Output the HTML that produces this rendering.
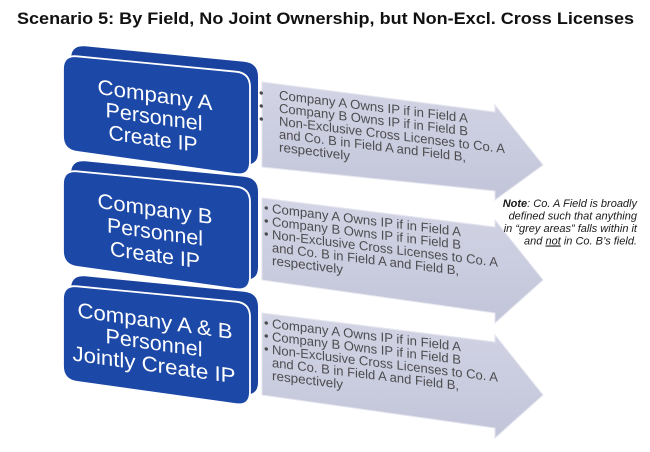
<!DOCTYPE html>
<html>
<head>
<meta charset="utf-8">
<style>
  html, body { margin:0; padding:0; background:#ffffff; }
  body { width:650px; height:452px; overflow:hidden; }
  svg { display:block; }
</style>
</head>
<body>
<svg width="650" height="452" viewBox="0 0 650 452" xmlns="http://www.w3.org/2000/svg">
  <defs>
    <linearGradient id="ag" x1="0" y1="0" x2="0" y2="1">
      <stop offset="0" stop-color="#d3d5e6"/>
      <stop offset="1" stop-color="#c2c4d9"/>
    </linearGradient>
  </defs>

  <!-- Title -->
  <text x="17" y="24" font-family="Liberation Sans, Arial, sans-serif" font-weight="bold" font-size="17" fill="#111" textLength="617" lengthAdjust="spacingAndGlyphs">Scenario 5: By Field, No Joint Ownership, but Non-Excl. Cross Licenses</text>

  <!-- Arrows -->
  <polygon points="262,82 495,112 495,105 543,165 495,200 495,191 262,167" fill="url(#ag)" stroke="#e4e5ee" stroke-width="1"/>
  <polygon points="262,198 495,227 495,220 543,280 495,323 495,313 262,280" fill="url(#ag)" stroke="#e4e5ee" stroke-width="1"/>
  <polygon points="262,313 495,342 495,335 543,395 495,438 495,428 262,395" fill="url(#ag)" stroke="#e4e5ee" stroke-width="1"/>

  <!-- Blue boxes -->
  <g>
    <path transform="translate(8,-10)" d="M63,69 Q63,55 77,56.3 L236,71.7 Q250,73 250,87 L250,162 Q250,176 236,174.1 L77,151.9 Q63,150 63,136 Z" fill="#1a43a0"/>
    <path d="M63,69 Q63,55 77,56.3 L236,71.7 Q250,73 250,87 L250,162 Q250,176 236,174.1 L77,151.9 Q63,150 63,136 Z" fill="#1c48a7" stroke="#ffffff" stroke-width="1.8"/>
  </g>
  <g transform="translate(0,115)">
    <path transform="translate(8,-10)" d="M63,69 Q63,55 77,56.3 L236,71.7 Q250,73 250,87 L250,162 Q250,176 236,174.1 L77,151.9 Q63,150 63,136 Z" fill="#1a43a0"/>
    <path d="M63,69 Q63,55 77,56.3 L236,71.7 Q250,73 250,87 L250,162 Q250,176 236,174.1 L77,151.9 Q63,150 63,136 Z" fill="#1c48a7" stroke="#ffffff" stroke-width="1.8"/>
  </g>
  <g transform="translate(0,230)">
    <path transform="translate(8,-10)" d="M63,69 Q63,55 77,56.3 L236,71.7 Q250,73 250,87 L250,162 Q250,176 236,174.1 L77,151.9 Q63,150 63,136 Z" fill="#1a43a0"/>
    <path d="M63,69 Q63,55 77,56.3 L236,71.7 Q250,73 250,87 L250,162 Q250,176 236,174.1 L77,151.9 Q63,150 63,136 Z" fill="#1c48a7" stroke="#ffffff" stroke-width="1.8"/>
  </g>

  <!-- Box texts -->
  <g font-family="Liberation Sans, Arial, sans-serif" font-size="21" fill="#ffffff" text-anchor="middle">
    <g transform="translate(155,102) skewY(8)">
      <text x="0" y="0" textLength="115" lengthAdjust="spacingAndGlyphs">Company A</text>
      <text x="-1" y="22" textLength="97" lengthAdjust="spacingAndGlyphs">Personnel</text>
      <text x="-2" y="44" textLength="89" lengthAdjust="spacingAndGlyphs">Create IP</text>
    </g>
    <g transform="translate(155,216) skewY(8)">
      <text x="0" y="0" textLength="115" lengthAdjust="spacingAndGlyphs">Company B</text>
      <text x="0" y="23" textLength="96" lengthAdjust="spacingAndGlyphs">Personnel</text>
      <text x="0" y="46" textLength="90" lengthAdjust="spacingAndGlyphs">Create IP</text>
    </g>
    <g transform="translate(155,328) skewY(8)">
      <text x="0" y="0" textLength="155" lengthAdjust="spacingAndGlyphs">Company A &amp; B</text>
      <text x="-1" y="22" textLength="97" lengthAdjust="spacingAndGlyphs">Personnel</text>
      <text x="-1" y="44" textLength="163" lengthAdjust="spacingAndGlyphs">Jointly Create IP</text>
    </g>
  </g>

  <!-- Arrow texts -->
  <g font-family="Liberation Sans, Arial, sans-serif" font-size="13" fill="#4d4d4f">
    <g transform="translate(259,97) skewY(7)">
      <text x="0" y="0">•</text>
      <text x="0" y="13">•</text>
      <text x="0" y="26">•</text>
      <text x="20" y="0" textLength="189" lengthAdjust="spacingAndGlyphs">Company A Owns IP if in Field A</text>
      <text x="20" y="13" textLength="189" lengthAdjust="spacingAndGlyphs">Company B Owns IP if in Field B</text>
      <text x="20" y="26" textLength="226" lengthAdjust="spacingAndGlyphs">Non-Exclusive Cross Licenses to Co. A</text>
      <text x="20" y="39" textLength="187" lengthAdjust="spacingAndGlyphs">and Co. B in Field A and Field B,</text>
      <text x="20" y="52" textLength="71" lengthAdjust="spacingAndGlyphs">respectively</text>
    </g>
    <g transform="translate(264,212) skewY(7)">
      <text x="0" y="0">•</text>
      <text x="0" y="13">•</text>
      <text x="0" y="26">•</text>
      <text x="8" y="0" textLength="189" lengthAdjust="spacingAndGlyphs">Company A Owns IP if in Field A</text>
      <text x="8" y="13" textLength="189" lengthAdjust="spacingAndGlyphs">Company B Owns IP if in Field B</text>
      <text x="8" y="26" textLength="226" lengthAdjust="spacingAndGlyphs">Non-Exclusive Cross Licenses to Co. A</text>
      <text x="8" y="39" textLength="187" lengthAdjust="spacingAndGlyphs">and Co. B in Field A and Field B,</text>
      <text x="8" y="52" textLength="71" lengthAdjust="spacingAndGlyphs">respectively</text>
    </g>
    <g transform="translate(264,327) skewY(7)">
      <text x="0" y="0">•</text>
      <text x="0" y="13">•</text>
      <text x="0" y="26">•</text>
      <text x="8" y="0" textLength="189" lengthAdjust="spacingAndGlyphs">Company A Owns IP if in Field A</text>
      <text x="8" y="13" textLength="189" lengthAdjust="spacingAndGlyphs">Company B Owns IP if in Field B</text>
      <text x="8" y="26" textLength="226" lengthAdjust="spacingAndGlyphs">Non-Exclusive Cross Licenses to Co. A</text>
      <text x="8" y="39" textLength="187" lengthAdjust="spacingAndGlyphs">and Co. B in Field A and Field B,</text>
      <text x="8" y="52" textLength="71" lengthAdjust="spacingAndGlyphs">respectively</text>
    </g>
  </g>

  <!-- Note -->
  <g font-family="Liberation Sans, Arial, sans-serif" font-size="11" font-style="italic" fill="#1a1a1a" text-anchor="end">
    <text x="637" y="207"><tspan font-weight="bold">Note</tspan>: Co. A Field is broadly</text>
    <text x="637" y="219.5">defined such that anything</text>
    <text x="637" y="232">in “grey areas” falls within it</text>
    <text x="637" y="244.5">and <tspan text-decoration="underline">not</tspan> in Co. B’s field.</text>
  </g>
</svg>
</body>
</html>
